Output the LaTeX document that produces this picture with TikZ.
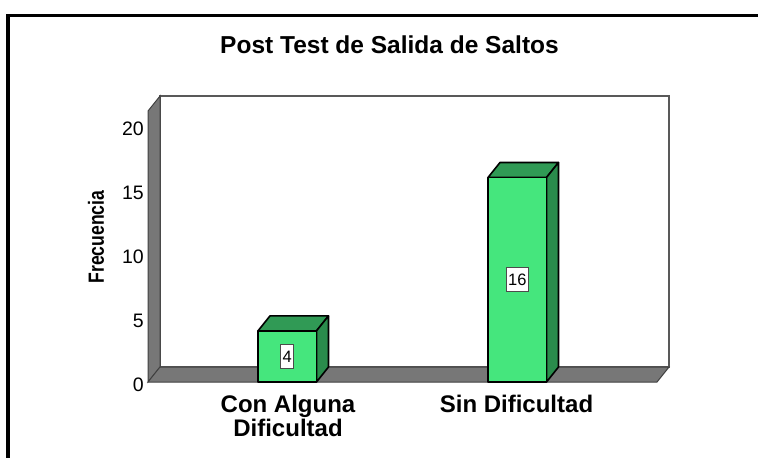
\documentclass[tikz,border=0pt]{standalone}
\usepackage{fontspec}
\setmainfont{Liberation Sans}
\newfontfamily\narrowfont[FakeStretch=0.8]{Liberation Sans}
\usetikzlibrary{calc}
\definecolor{barfront}{HTML}{45E67D}
\definecolor{bartop}{HTML}{309A55}
\definecolor{barside}{HTML}{2A8C4C}
\definecolor{wallgray}{HTML}{777777}

\begin{document}
\begin{tikzpicture}[x=1pt,y=-1pt,
    baredge/.style={draw=black,line width=1.6pt,line join=round},
    wall/.style={draw=black!75,line width=1pt,fill=wallgray},
    valbox/.style={draw=black!70,fill=white,line width=0.8pt,inner xsep=2pt,
                   inner ysep=0pt,minimum height=24pt,
                   font=\fontsize{16.5}{18}\selectfont},
    ticklab/.style={anchor=east,inner sep=0pt,font=\fontsize{19.5}{20}\selectfont},
    catlab/.style={anchor=north,inner sep=0pt,align=center,
                   font=\bfseries\fontsize{24}{20}\selectfont}]
                    \useasboundingbox (0,0) rectangle (758,458);
                    \def\base{382}   % front edge of the floor (value 0)
                    \def\unit{12.78} % pixels per count
                    \def\dx{12}      % depth of the 3d look
                    \def\dy{-15}
                    \def\bw{58.5}    % bar width

                    % frame
                    \draw[line width=3.5pt] (8,458) -- (8,15.5) -- (758,15.5);

                    \node (title) at (389.5,53)[anchor=base,inner sep=0pt,
                        font=\bfseries\fontsize{24.5}{24}\selectfont]
                    {Post Test de Salida de Saltos};

                    % walls and floor
                    \coordinate (A1) at (148,\base);
                    \coordinate (A2) at (657,\base);
                    \coordinate (A4) at (148,111);
                    \coordinate (B1) at ($(A1) + (\dx,\dy)$);
                    \coordinate (B2) at ($(A2) + (\dx,\dy)$);
                    \coordinate (B4) at ($(A4) + (\dx,\dy)$);

                    \draw[draw=black!65,line width=1.2pt,fill=white]
                        (B1) rectangle (B2 |- B4);
                    \draw[wall] (A1) -- (A4) -- (B4) -- (B1) -- cycle;
                    \draw[wall] (A1) -- (B1) -- (B2) -- (A2) -- cycle;

                    % ticks
                    \foreach \v in {0,5,...,20}
                    \node (tick\v) at (144,{\base-\unit*\v+2.5})[ticklab] {\v};

                    \node (ylabel) at (96,237)[rotate=90,inner sep=0pt,
                        font=\narrowfont\bfseries\fontsize{22}{22}\selectfont] {Frecuencia};

                    % bars
                    \foreach \i/\xl/\v in {1/258/4, 2/488/16}{
                      \pgfmathsetmacro{\ytop}{\base-\unit*\v}
                      \coordinate (F\i) at (\xl,\ytop);
                      \coordinate (G\i) at ({\xl+\bw},\ytop);
                      \coordinate (H\i) at ({\xl+\bw},\base);
                      \draw[baredge,fill=bartop] (F\i) -- ++(\dx,\dy)
                          -- ($(G\i)+(\dx,\dy)$) -- (G\i) -- cycle;
                      \draw[baredge,fill=barside] (G\i) -- ++(\dx,\dy)
                          -- ($(H\i)+(\dx,\dy)$) -- (H\i) -- cycle;
                      \draw[baredge,fill=barfront] (\xl,\base) rectangle (G\i);
                      \node (val\i) at ({\xl+\bw/2},{(\ytop+\base)/2})[valbox] {\v};
                    }

                    \node (cat1) at (288,395)[catlab] {Con Alguna\\Dificultad};
                    \node (cat2) at (516.5,395)[catlab] {Sin Dificultad};
                \end{tikzpicture}
\end{document}
